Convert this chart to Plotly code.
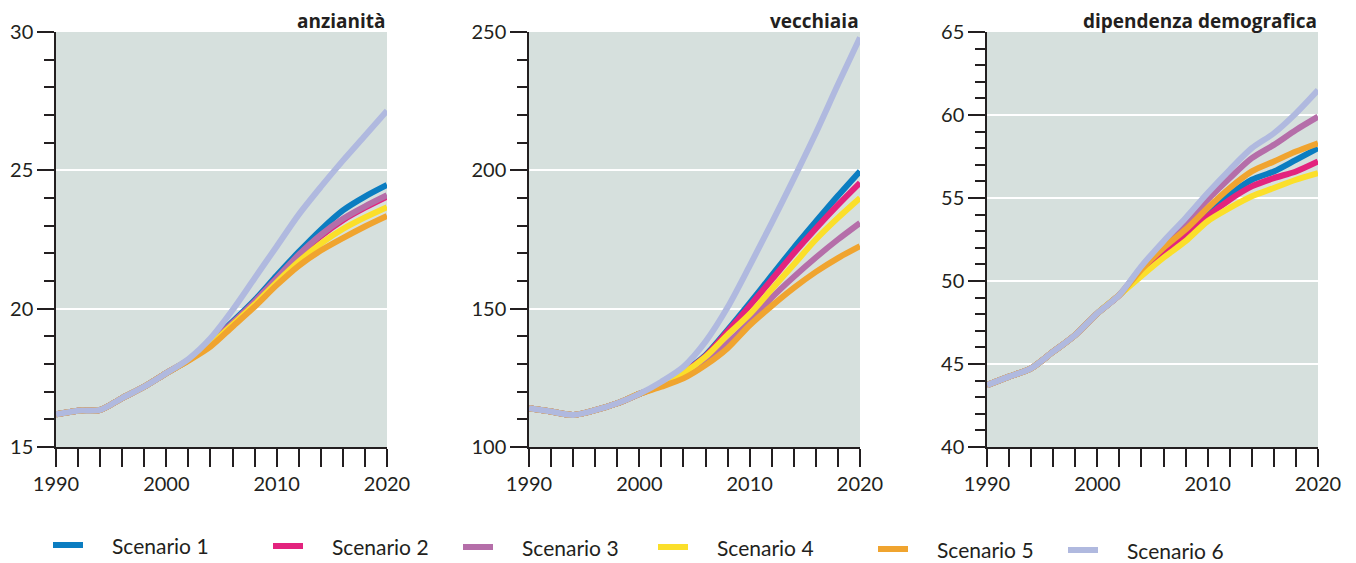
import plotly.graph_objects as go
from plotly.subplots import make_subplots

years = [1990, 1992, 1994, 1996, 1998, 2000, 2002, 2004, 2006, 2008, 2010, 2012, 2014, 2016, 2018, 2020]

# indice di anzianità
anz_s1 = [16.18, 16.31, 16.34, 16.77, 17.18, 17.67, 18.14, 18.80, 19.53, 20.31, 21.20, 22.05, 22.85, 23.55, 24.05, 24.47]
anz_s2 = [16.18, 16.31, 16.34, 16.77, 17.18, 17.67, 18.14, 18.75, 19.48, 20.25, 21.10, 21.90, 22.62, 23.20, 23.65, 24.05]
anz_s3 = [16.18, 16.31, 16.34, 16.77, 17.18, 17.67, 18.14, 18.75, 19.48, 20.25, 21.10, 21.95, 22.67, 23.25, 23.70, 24.10]
anz_s4 = [16.18, 16.31, 16.34, 16.77, 17.18, 17.67, 18.14, 18.70, 19.42, 20.15, 20.95, 21.70, 22.35, 22.88, 23.30, 23.67]
anz_s5 = [16.18, 16.31, 16.34, 16.77, 17.18, 17.67, 18.12, 18.63, 19.35, 20.07, 20.85, 21.55, 22.10, 22.55, 22.97, 23.35]
anz_s6 = [16.18, 16.31, 16.34, 16.77, 17.18, 17.67, 18.18, 18.93, 19.95, 21.10, 22.25, 23.40, 24.40, 25.35, 26.25, 27.15]

# indice di vecchiaia
vec_s1 = [114.0, 112.8, 111.6, 113.3, 115.8, 119.2, 122.6, 127.2, 133.2, 142.3, 152.0, 162.0, 172.0, 181.5, 190.8, 199.7]
vec_s2 = [114.0, 112.8, 111.6, 113.3, 115.8, 119.2, 122.5, 127.0, 132.9, 141.8, 151.0, 160.5, 170.0, 179.0, 187.5, 195.5]
vec_s3 = [114.0, 112.8, 111.6, 113.3, 115.8, 119.2, 122.2, 125.5, 130.8, 137.5, 145.3, 154.0, 161.5, 168.5, 175.0, 181.0]
vec_s4 = [114.0, 112.8, 111.6, 113.3, 115.8, 119.2, 122.4, 126.7, 132.6, 140.5, 148.0, 157.0, 166.0, 175.0, 182.8, 190.0]
vec_s5 = [114.0, 112.8, 111.6, 113.3, 115.8, 119.2, 121.8, 124.8, 129.6, 135.7, 144.0, 151.0, 157.5, 163.3, 168.3, 172.6]
vec_s6 = [114.0, 112.8, 111.6, 113.3, 115.8, 119.2, 123.6, 129.0, 138.1, 150.5, 165.5, 181.0, 197.0, 213.5, 231.0, 248.0]

# indice di dipendenza demografica
dip_s1 = [43.73, 44.24, 44.74, 45.74, 46.75, 48.05, 49.16, 50.60, 51.80, 52.90, 54.10, 55.20, 56.10, 56.60, 57.30, 58.00]
dip_s2 = [43.73, 44.24, 44.74, 45.74, 46.75, 48.05, 49.16, 50.50, 51.70, 52.70, 53.90, 54.90, 55.70, 56.20, 56.60, 57.20]
dip_s3 = [43.73, 44.24, 44.74, 45.74, 46.75, 48.05, 49.16, 50.80, 52.20, 53.50, 54.90, 56.20, 57.40, 58.20, 59.10, 59.90]
dip_s4 = [43.73, 44.24, 44.74, 45.74, 46.75, 48.05, 49.16, 50.30, 51.40, 52.40, 53.60, 54.40, 55.10, 55.60, 56.10, 56.50]
dip_s5 = [43.73, 44.24, 44.74, 45.74, 46.75, 48.05, 49.16, 50.70, 52.00, 53.10, 54.40, 55.60, 56.60, 57.20, 57.80, 58.30]
dip_s6 = [43.73, 44.24, 44.74, 45.74, 46.75, 48.05, 49.16, 50.90, 52.40, 53.80, 55.30, 56.70, 58.00, 58.90, 60.10, 61.50]

scenarios = ["Scenario 1", "Scenario 2", "Scenario 3", "Scenario 4", "Scenario 5", "Scenario 6"]
colors = ["#0b7dc1", "#e3237e", "#b56ea9", "#fbdf2a", "#f0a42f", "#b0b9df"]

panels = [
    ("anzianità", [anz_s1, anz_s2, anz_s3, anz_s4, anz_s5, anz_s6], [15, 30], 5, 1),
    ("vecchiaia", [vec_s1, vec_s2, vec_s3, vec_s4, vec_s5, vec_s6], [100, 250], 50, 10),
    ("dipendenza demografica", [dip_s1, dip_s2, dip_s3, dip_s4, dip_s5, dip_s6], [40, 65], 5, 1),
]

INK = "#231f20"
BG = "#d6e0dd"
OFF = 8  # the page body margin shifts the figure by 8px
W, H = 1356 - OFF, 563 - OFF
x_px = [(56, 387), (529, 860), (987, 1318)]
y_top, y_bot = 32, 447


def px_x(x):
    return (x - OFF) / W


def px_y(y):
    return (H - (y - OFF)) / H


y_dom = [px_y(y_bot), px_y(y_top)]

# hand-placed legend row (swatch left edge, vertical centre)
legend_x = [53, 273, 463, 658, 878, 1068]
legend_y = [545, 546, 547, 547, 549, 550]

fig = make_subplots(rows=1, cols=3)

for col, (title, series, yrange, major, minor) in enumerate(panels, start=1):
    for i, values in enumerate(series):
        fig.add_trace(
            go.Scatter(
                x=years,
                y=values,
                mode="lines",
                name=scenarios[i],
                line=dict(color=colors[i], width=6, shape="spline", smoothing=0.8),
                showlegend=False,
            ),
            row=1,
            col=col,
        )
    x0, x1 = x_px[col - 1]
    fig.update_xaxes(
        domain=[px_x(x0), px_x(x1)],
        range=[1990, 2020],
        tick0=1990,
        dtick=10,
        ticks="outside",
        ticklen=18,
        tickwidth=1.5,
        tickcolor=INK,
        minor=dict(dtick=2, ticks="outside", ticklen=18, tickwidth=1.5, tickcolor=INK),
        showline=True,
        linecolor=INK,
        linewidth=1.5,
        showgrid=False,
        zeroline=False,
        automargin=False,
        tickfont=dict(family="Lato", size=20, color=INK),
        row=1,
        col=col,
    )
    fig.update_yaxes(
        domain=y_dom,
        range=yrange,
        tick0=yrange[0],
        dtick=major,
        ticks="outside",
        ticklen=17,
        tickwidth=1.5,
        tickcolor=INK,
        minor=dict(dtick=minor, ticks="outside", ticklen=10, tickwidth=1.5, tickcolor=INK, showgrid=False),
        showline=True,
        linecolor=INK,
        linewidth=1.5,
        showgrid=True,
        gridcolor="white",
        gridwidth=2,
        zeroline=False,
        automargin=False,
        tickfont=dict(family="Lato", size=20, color=INK),
        row=1,
        col=col,
    )
    fig.add_annotation(
        text=f"<b>{title}</b>",
        xref="paper",
        yref="paper",
        x=px_x(x1),
        y=px_y(21),
        xanchor="right",
        yanchor="middle",
        borderpad=0,
        showarrow=False,
        font=dict(family="Open Sans", size=19, color=INK),
    )

for name, color, lx, ly in zip(scenarios, colors, legend_x, legend_y):
    fig.add_shape(
        type="line",
        xref="paper",
        yref="paper",
        x0=px_x(lx),
        x1=px_x(lx + 30),
        y0=px_y(ly),
        y1=px_y(ly),
        line=dict(color=color, width=6),
    )
    fig.add_annotation(
        text=name,
        xref="paper",
        yref="paper",
        x=px_x(lx + 57),
        y=px_y(ly),
        xanchor="left",
        yanchor="middle",
        showarrow=False,
        font=dict(family="Lato", size=21, color=INK),
    )

fig.update_layout(
    width=W,
    height=H,
    margin=dict(l=0, r=0, t=0, b=0),
    paper_bgcolor="white",
    plot_bgcolor=BG,
    showlegend=False,
)

fig.write_html("out.html")
